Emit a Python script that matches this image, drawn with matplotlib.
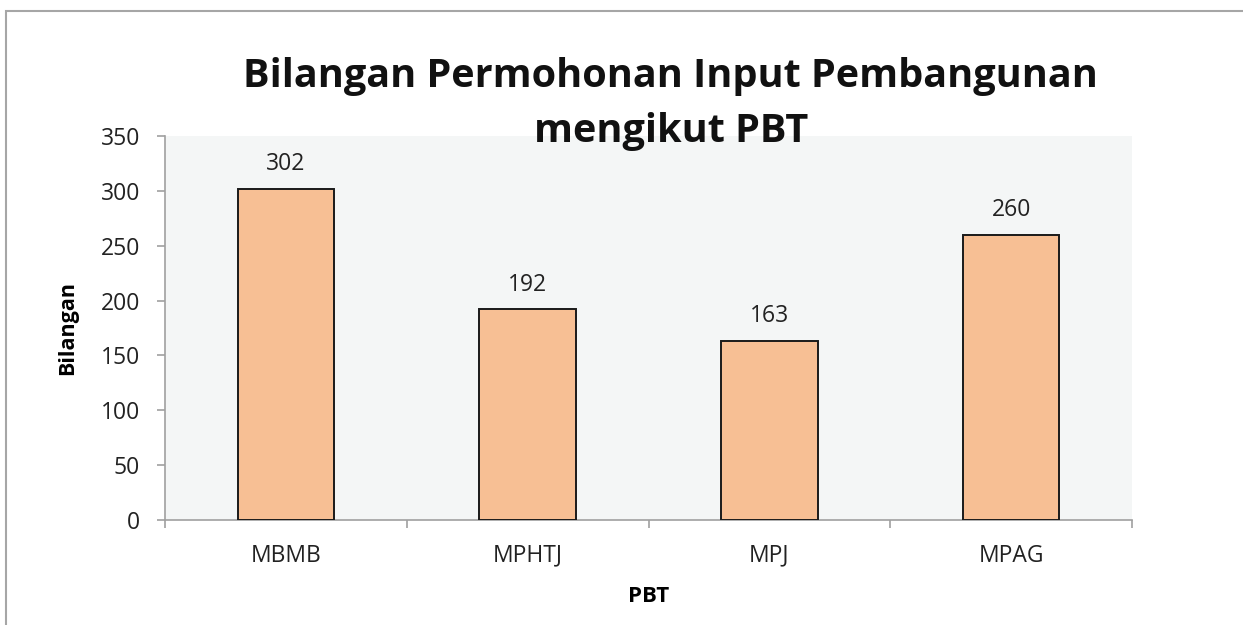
import matplotlib
matplotlib.use("Agg")
import matplotlib.pyplot as plt
from matplotlib.patches import Rectangle

categories = ["MBMB", "MPHTJ", "MPJ", "MPAG"]
values = [302, 192, 163, 260]
yticks = [0, 50, 100, 150, 200, 250, 300, 350]
title_lines = ["Bilangan Permohonan Input Pembangunan", "mengikut PBT"]

W, H = 1243, 625
plt.rcParams['font.family'] = ['Open Sans', 'DejaVu Sans']
fig = plt.figure(figsize=(W / 100, H / 100), dpi=100)

# outer chart border
fig.patches.append(Rectangle((6 / W, -0.1), 1.2, 1 - 10.5 / H + 0.1,
                             transform=fig.transFigure, fill=False,
                             edgecolor="#a6a6a6", linewidth=1.5, zorder=0))

ax = fig.add_axes([165 / W, 1 - 520 / H, (1132 - 165) / W, (520 - 136) / H])
ax.set_facecolor("#f4f6f6")

FS = 16.5
x = list(range(len(categories)))
ax.bar(x, values, width=0.4, color="#f7bf94", edgecolor="#1a1a1a",
       linewidth=1.4, zorder=3)
for xi, v in zip(x, values):
    ax.annotate(str(v), (xi, v), xytext=(0, 13.5), textcoords="offset points",
                ha="center", va="baseline", fontsize=FS, color="#222222")

ax.set_xlim(-0.5, len(categories) - 0.5)
ax.set_ylim(0, 350)
ax.set_yticks(yticks)
ax.set_yticklabels([str(t) for t in yticks], fontsize=FS, color="#222222")
ax.set_xticks(x)
ax.set_xticklabels(categories, fontsize=FS, color="#222222")
ax.tick_params(axis="x", length=0, pad=17)
ax.set_xticks([i - 0.5 for i in range(len(categories) + 1)], minor=True)
ax.tick_params(axis="x", which="minor", length=6, color="#a0a0a0", width=1.2)
ax.tick_params(axis="y", length=6, color="#a0a0a0", width=1.2, pad=12)

for s in ["top", "right"]:
    ax.spines[s].set_visible(False)
for s in ["left", "bottom"]:
    ax.spines[s].set_color("#a0a0a0")
    ax.spines[s].set_linewidth(1.2)

ax.set_ylabel("Bilangan", fontsize=15.5, fontweight="bold", labelpad=16)
ax.set_xlabel("PBT", fontsize=16, fontweight="bold", labelpad=13)

fig.text(670 / W, 1 - 87 / H, title_lines[0], ha="center", va="baseline",
         fontsize=28.5, fontweight="bold", color="#111111", zorder=10)
fig.text(671 / W, 1 - 142 / H, title_lines[1], ha="center", va="baseline",
         fontsize=28.5, fontweight="bold", color="#111111", zorder=10)

fig.savefig("out.png", dpi=100)
